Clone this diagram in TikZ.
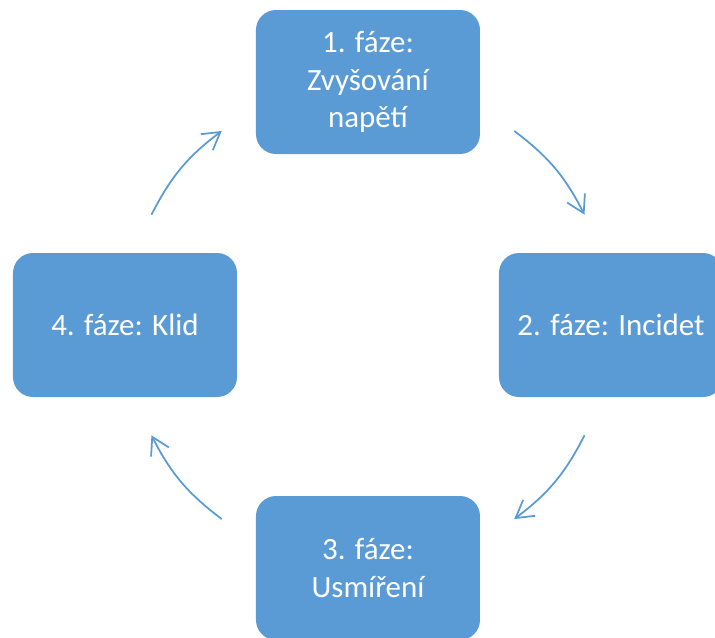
\documentclass[tikz,border=0pt]{standalone}
\usepackage{fontspec}
\setmainfont{Carlito}
\usetikzlibrary{arrows.meta}

\definecolor{phaseblue}{HTML}{5B9BD5}

\tikzset{
  phase/.style={fill=phaseblue, rounded corners=2mm, minimum width=2.24cm,
    minimum height=1.44cm, text=white, align=center, inner sep=0pt,
    font=\fontsize{8.8}{10.6}\selectfont},
  cyc/.style={draw=phaseblue, line width=0.5pt,
    -{Straight Barb[length=1.7mm,width=2mm]}}
}

\begin{document}
\begin{tikzpicture}

            \useasboundingbox (-3.68,-3.12) rectangle (3.47,3.25);

            \node[phase] (p1) at (90:2.43) {1. fáze:\\Zvyšování\\napětí};
            \node[phase] (p2) at (0:2.43) {2. fáze: Incidet};
            \node[phase] (p3) at (-90:2.43) {3. fáze:\\Usmíření};
            \node[phase] (p4) at (180:2.43) {4. fáze: Klid};

            \foreach \i/\s/\e in {1/53/27, 2/-27/-53, 3/-127/-153, 4/153/127}{
              \coordinate (s\i) at (\s:2.43);
              \coordinate (e\i) at (\e:2.43);
              \draw[cyc] (s\i) to[bend left=13] (e\i);
            }

        \end{tikzpicture}
\end{document}
